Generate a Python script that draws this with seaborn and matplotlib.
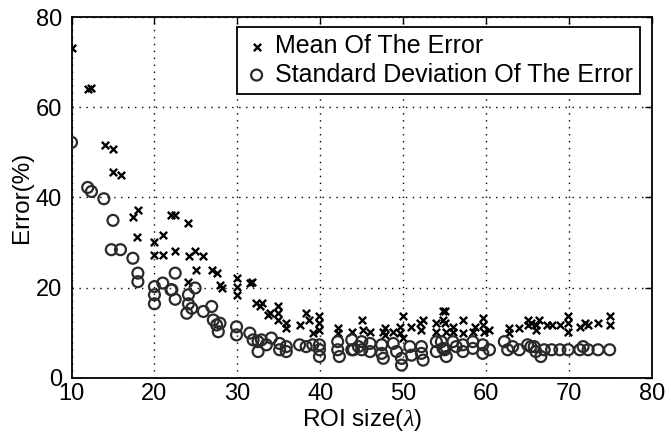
import matplotlib
matplotlib.use("Agg")
import matplotlib.pyplot as plt
import pandas as pd
import seaborn as sns

# ROI size vs mean error (x markers)
mean_x = [10, 12.0, 12.4, 14.0, 15.0, 15.0, 16.0, 17.4, 18.0, 17.9, 20, 21, 22, 22.5,
          20, 21, 22.5, 24.0, 24.2, 24.9, 25.9, 25.0, 26.9, 27.5, 24.0, 27.9, 28.1,
          29.9, 29.9, 29.9, 31.5, 31.8, 32.3, 32.7, 33.7, 33.0, 33.9, 34.9, 34.9, 34.9,
          35.9, 35.9, 37.5, 38.3, 38.7, 39.1, 39.9, 39.9, 39.9, 42.1, 42.1, 43.8,
          45.0, 45.2, 46.0, 47.6, 47.8, 47.8, 48.8, 49.6, 49.6, 50.0, 50.0, 51.0, 52.0,
          52.2, 52.4, 54.0, 54.0, 54.8, 54.8, 55.2, 55.0, 55.0, 56.0, 56.0, 57.2, 57.2,
          58.4, 58.6, 59.6, 59.6, 59.8, 60.4, 62.8, 62.8, 64.0, 65.0, 65.0, 66.0, 66.0,
          65.4, 66.4, 67.3, 67.9, 68.9, 69.9, 69.9, 69.9, 71.3, 71.9, 72.3, 73.5, 74.9, 74.9]
mean_y = [73.2, 64.0, 64.3, 51.7, 50.8, 45.6, 45.0, 35.6, 37.3, 31.2, 30.2, 31.7, 36.0, 36.0,
          27.3, 27.3, 28.0, 34.3, 26.9, 28.0, 27.0, 23.9, 23.9, 23.2, 21.3, 20.6, 19.9,
          22.1, 20.2, 18.4, 21.0, 21.3, 16.5, 15.8, 13.9, 16.5, 14.3, 15.8, 14.3, 12.8,
          12.1, 11.0, 11.7, 14.3, 12.8, 9.9, 13.6, 12.1, 10.6, 11.0, 9.9, 10.2,
          12.8, 10.6, 10.2, 10.2, 11.0, 9.5, 10.2, 11.3, 9.9, 13.6, 8.8, 11.3, 12.1,
          10.6, 12.8, 12.1, 10.2, 14.7, 12.8, 10.2, 14.7, 12.1, 11.3, 10.2, 12.8, 9.9,
          10.2, 11.3, 13.2, 11.7, 10.2, 10.6, 11.0, 9.9, 11.0, 12.8, 11.7, 11.7, 10.6,
          12.1, 12.8, 11.7, 11.7, 11.7, 13.6, 12.1, 10.2, 11.3, 12.1, 11.7, 12.1, 13.6, 11.7]

# ROI size vs standard deviation of error (o markers)
std_x = [10, 11.95, 12.4, 13.9, 15.0, 14.8, 15.9, 17.4, 18.0, 18.0, 20, 20, 20, 21, 22.5,
         22.0, 22.5, 22.1, 24.1, 24.1, 24.9, 24.5, 23.9, 25.9, 26.9, 27.1, 27.5, 27.9,
         27.7, 29.9, 29.9, 31.5, 31.9, 32.5, 32.5, 32.9, 33.5, 34.1, 35.1, 35.1, 35.9,
         35.9, 37.5, 38.3, 39.1, 39.9, 39.9, 39.9, 42.1, 42.1, 42.3, 43.8, 44.6,
         43.8, 44.0, 45.0, 45.0, 46.0, 46.0, 47.4, 47.4, 47.6, 48.8, 49.2, 49.8, 49.8,
         50.8, 51.0, 52.2, 52.2, 52.4, 54.0, 54.0, 54.8, 55.2, 54.6, 55.0, 56.0, 56.4,
         57.2, 57.2, 58.4, 58.4, 59.6, 59.6, 60.4, 62.2, 62.6, 63.2, 64.0, 65.0, 65.8,
         65.4, 66.0, 66.6, 67.0, 67.9, 68.9, 69.9, 71.3, 71.7, 72.3, 73.5, 74.9]
std_y = [52.2, 42.2, 41.3, 39.7, 34.9, 28.4, 28.4, 26.5, 23.2, 21.3, 20.2, 18.4, 16.4, 21.0, 23.2,
         19.5, 17.4, 19.5, 18.4, 16.4, 19.9, 15.4, 14.3, 14.7, 15.8, 12.8, 11.7, 12.1,
         10.2, 11.3, 9.5, 9.9, 8.4, 8.0, 5.8, 8.4, 7.3, 8.8, 7.6, 6.2, 6.9,
         5.8, 7.3, 6.9, 7.3, 7.3, 6.2, 4.7, 8.0, 6.2, 4.7, 6.2, 6.9,
         8.4, 6.2, 8.0, 6.2, 7.6, 5.8, 7.3, 5.4, 4.3, 7.6, 5.8, 4.3, 2.8,
         6.9, 5.0, 6.9, 5.4, 3.9, 8.0, 5.8, 6.5, 4.7, 8.0, 6.2, 8.0, 6.9,
         7.3, 5.8, 8.0, 6.5, 7.3, 5.4, 6.2, 8.0, 6.2, 6.9, 6.2, 7.3, 6.9,
         6.9, 5.8, 4.7, 6.2, 6.2, 6.2, 6.2, 6.2, 6.9, 6.2, 6.2, 6.2]

x_ticks = [10, 20, 30, 40, 50, 60, 70, 80]
y_ticks = [0, 20, 40, 60, 80]


def main():
    sns.set_theme(style="white")
    plt.rcParams["font.family"] = ["Liberation Sans", "DejaVu Sans"]
    plt.rcParams["text.color"] = "black"
    plt.rcParams["mathtext.fontset"] = "custom"
    plt.rcParams["mathtext.it"] = "Liberation Serif:italic"

    mean_df = pd.DataFrame({"roi": mean_x, "err": mean_y})
    std_df = pd.DataFrame({"roi": std_x, "err": std_y})

    fig = plt.figure(figsize=(6.71, 4.45), dpi=100)
    ax = fig.add_axes([0.1066, 0.1512, 0.865, 0.8105])

    sns.scatterplot(x="roi", y="err", data=mean_df, marker="x", color="black",
                    s=28, linewidth=1.7, ax=ax, label="Mean Of The Error", zorder=3)
    sns.scatterplot(x="roi", y="err", data=std_df, marker="o", facecolor="none",
                    edgecolor="#2a2a2a", s=62, linewidth=1.6, ax=ax,
                    label="Standard Deviation Of The Error", zorder=3)

    ax.set_xlim(10, 80)
    ax.set_ylim(0, 80)
    ax.set_xticks(x_ticks)
    ax.set_yticks(y_ticks)
    ax.grid(True, linestyle=(0, (1, 4)), color="black", linewidth=1.0)
    for sp in ax.spines.values():
        sp.set_color("black")
        sp.set_linewidth(1.3)
    ax.tick_params(direction="in", length=5, width=1, top=True, right=True,
                   labelsize=17, colors="black")
    ax.tick_params(axis="x", pad=4)
    ax.tick_params(axis="y", pad=7)

    ax.set_xlabel(r"ROI size($\lambda$)", fontsize=17.5, labelpad=1, color="black")
    ax.set_ylabel("Error(%)", fontsize=17.5, labelpad=2, color="black")

    leg = ax.legend(loc="upper right", fontsize=18, frameon=True, fancybox=False,
                    borderpad=0.28, handletextpad=0.25, labelspacing=0.18,
                    handlelength=1.0, borderaxespad=0,
                    bbox_to_anchor=(0.98, 0.972))
    leg.get_frame().set_edgecolor("black")
    leg.get_frame().set_linewidth(1.3)
    leg.get_frame().set_alpha(1)

    fig.savefig("out.png", dpi=100)
    plt.close(fig)


if __name__ == "__main__":
    main()
